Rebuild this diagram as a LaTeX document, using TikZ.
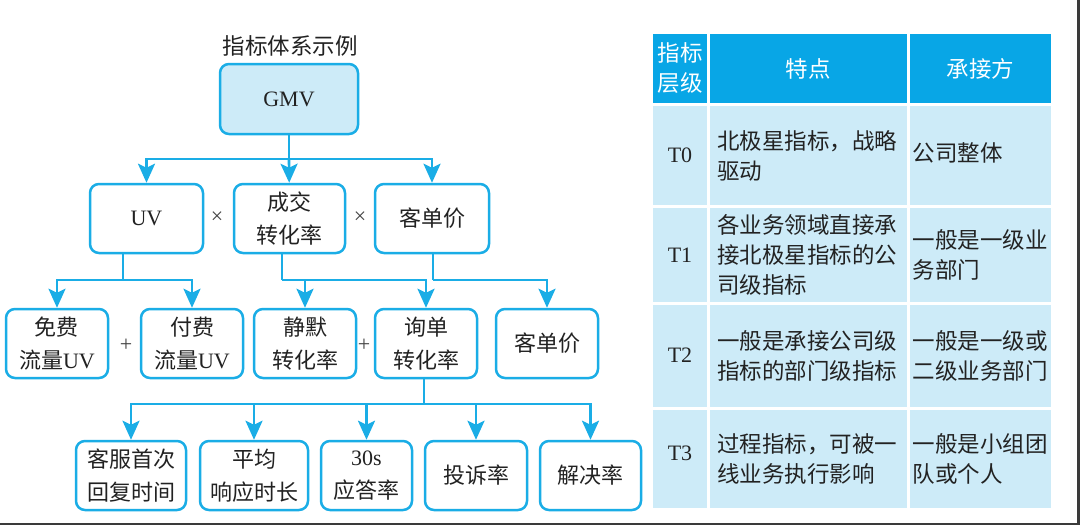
\documentclass[tikz,border=0pt]{standalone}
\usepackage{fontspec}
\setmainfont{Liberation Serif}
\newfontfamily\cjk{Noto Sans CJK SC}
\usetikzlibrary{arrows.meta}
\definecolor{cb}{HTML}{1AADE6}
\definecolor{hd}{HTML}{08A6E6}
\definecolor{lb}{HTML}{CDEBF8}
\definecolor{tx}{HTML}{222222}
\definecolor{edge}{HTML}{3A3A3A}
\begin{document}
\begin{tikzpicture}[x=1pt,y=-1pt,
 box/.style={draw=cb,line width=2.5pt,rounded corners=9pt,fill=white,align=center,inner sep=0pt,text=tx,font=\fontsize{22}{33}\selectfont},
 link/.style={draw=cb,line width=2.6pt},
 conn/.style={link,-{Stealth[length=19pt 0,width=17pt 0,inset=4pt]}},
 op/.style={text=tx!85,font=\fontsize{22}{22}\selectfont,inner sep=0pt},
 hdtx/.style={text=white,align=center,font=\fontsize{22.5}{30}\selectfont\cjk,inner sep=0pt},
 ttx/.style={text=tx,align=left,font=\fontsize{22.5}{30}\selectfont\cjk,inner sep=0pt,anchor=west},
 ltx/.style={text=tx,font=\fontsize{22}{30}\selectfont,inner sep=0pt},
]
\useasboundingbox (0,0) rectangle (1080,525);
\fill[white] (0,0) rectangle (1080,525);
\fill[edge] (1077,0) rectangle (1080,525);
\fill[edge] (0,523) rectangle (1080,525);

% title
\node[text=tx,font=\fontsize{22.5}{26}\selectfont\cjk,inner sep=0pt] (title) at (290,46) {指标体系示例};

% level 1
\node[box,fill=lb,minimum width=138pt,minimum height=70pt] (gmv) at (289,99) {GMV};
% level 2
\node[box,minimum width=113pt,minimum height=69pt] (uv) at (146.5,218.5) {UV};
\node[box,minimum width=111pt,minimum height=69pt] (cj) at (289.5,218.5) {{\cjk 成交}\\{\cjk 转化率}};
\node[box,minimum width=114pt,minimum height=69pt] (kd2) at (432,218.5) {{\cjk 客单价}};
\node[op] (x1) at (217,218) {×};
\node[op] (x2) at (360,218) {×};
% level 3
\node[box,minimum width=102pt,minimum height=69pt] (mf) at (57,343.5) {{\cjk 免费}\\{\cjk 流量}UV};
\node[box,minimum width=102pt,minimum height=69pt] (ff) at (192,343.5) {{\cjk 付费}\\{\cjk 流量}UV};
\node[box,minimum width=102pt,minimum height=69pt] (jm) at (305,343.5) {{\cjk 静默}\\{\cjk 转化率}};
\node[box,minimum width=102pt,minimum height=69pt] (xd) at (426,343.5) {{\cjk 询单}\\{\cjk 转化率}};
\node[box,minimum width=102pt,minimum height=69pt] (kd3) at (547,343.5) {{\cjk 客单价}};
\node[op] (p1) at (126,345) {+};
\node[op] (p2) at (364,345) {+};
% level 4
\node[box,minimum width=110pt,minimum height=69pt] (kf) at (131,475.5) {{\cjk 客服首次}\\{\cjk 回复时间}};
\node[box,minimum width=108pt,minimum height=69pt] (pj) at (254,475.5) {{\cjk 平均}\\{\cjk 响应时长}};
\node[box,minimum width=91pt,minimum height=69pt] (yd) at (366.5,475.5) {30s\\{\cjk 应答率}};
\node[box,minimum width=102pt,minimum height=69pt] (ts) at (476,475.5) {{\cjk 投诉率}};
\node[box,minimum width=101pt,minimum height=69pt] (jj) at (590.5,475.5) {{\cjk 解决率}};

% connectors
\coordinate (j1) at (289,159);
\draw[link] (gmv.south) -- (j1);
\draw[conn] (j1) -| (uv);
\draw[conn] (j1) -- (cj);
\draw[conn] (j1) -| (kd2);

\coordinate (j2) at (123,280);
\draw[link] (uv.south -| j2) -- (j2);
\draw[conn] (j2) -| (mf);
\draw[conn] (j2) -| (ff);

\coordinate (j3) at (282,280);
\draw[link] (cj.south -| j3) -- (j3);
\draw[conn] (j3) -| (jm);
\draw[conn] (j3) -| (xd);

\coordinate (j4) at (433,280);
\draw[link] (kd2.south -| j4) -- (j4);
\draw[conn] (j4) -| (kd3);

\coordinate (j5) at (424,404);
\draw[link] (xd.south -| j5) -- (j5);
\draw[conn] (j5) -| (kf);
\draw[conn] (j5) -| (pj);
\draw[conn] (j5) -| (yd);
\draw[conn] (j5) -| (ts);
\draw[conn] (j5) -| (jj);

% table cells
\fill[hd] (653,34) rectangle (707,103);
\fill[hd] (709.5,34) rectangle (907,103);
\fill[hd] (910,34) rectangle (1051,103);
\foreach \ya/\yb in {106/205,208/302,304.5/407,409.5/508}{
  \fill[lb] (653,\ya) rectangle (707,\yb);
  \fill[lb] (709.5,\ya) rectangle (907,\yb);
  \fill[lb] (910,\ya) rectangle (1051,\yb);
}
% header
\node[hdtx] (h1) at (680,68.5) {指标\\层级};
\node[hdtx] (h2) at (808,69) {特点};
\node[hdtx] (h3) at (980.5,69) {承接方};
% rows
\node[ltx] (t0) at (680,155.5) {T0};
\node[ttx] (c0) at (717,155.5) {北极星指标，战略\\驱动};
\node[ttx] (d0) at (912.5,153) {公司整体};
\node[ltx] (t1) at (680,255) {T1};
\node[ttx] (c1) at (717,255) {各业务领域直接承\\接北极星指标的公\\司级指标};
\node[ttx] (d1) at (912.5,255) {一般是一级业\\务部门};
\node[ltx] (t2) at (680,355.5) {T2};
\node[ttx] (c2) at (717,355.5) {一般是承接公司级\\指标的部门级指标};
\node[ttx] (d2) at (912.5,355.5) {一般是一级或\\二级业务部门};
\node[ltx] (t3) at (680,453) {T3};
\node[ttx] (c3) at (717,458.5) {过程指标，可被一\\线业务执行影响};
\node[ttx] (d3) at (912.5,458.5) {一般是小组团\\队或个人};
\end{tikzpicture}
\end{document}
